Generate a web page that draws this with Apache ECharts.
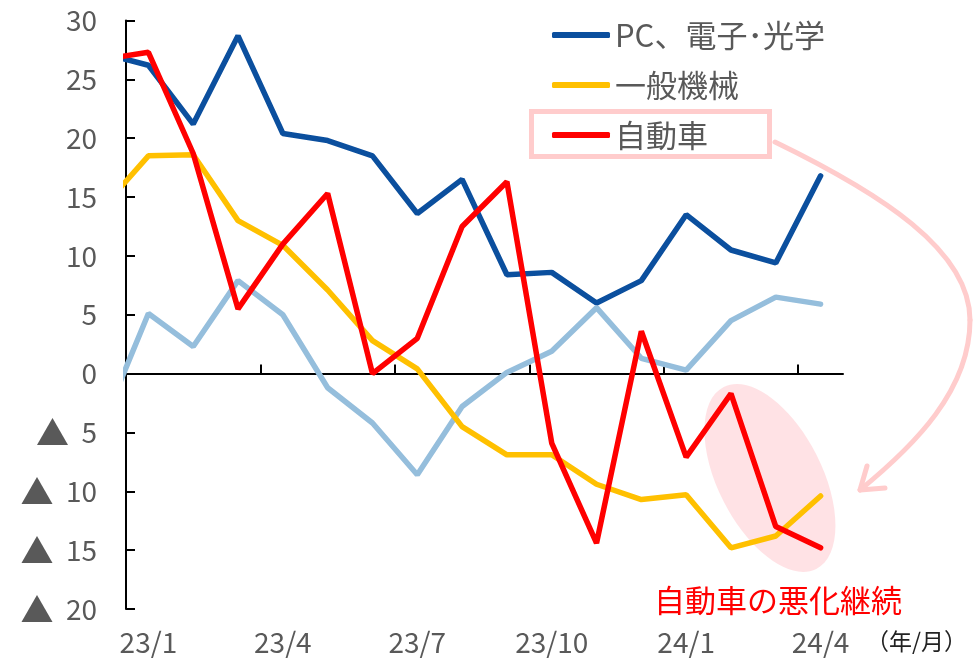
<!DOCTYPE html>
<html>
<head>
<meta charset="utf-8">
<script src="https://cdn.jsdelivr.net/npm/echarts@6/dist/echarts.min.js"></script>
<style>
  html, body { margin: 0; padding: 0; background: #fff; }
  #chart { width: 980px; height: 662px; }
</style>
</head>
<body>
<div id="chart"></div>
<script>
// months, index 0 (22/12) sits just left of the plot and is clipped
var months = ['22/12', '23/1', '23/2', '23/3', '23/4', '23/5', '23/6', '23/7', '23/8',
  '23/9', '23/10', '23/11', '23/12', '24/1', '24/2', '24/3', '24/4'];
var labelMonths = [1, 4, 7, 10, 13, 16];
var tickMarks = [3.5, 6.5, 9.5, 12.5, 15.5];

var pcElec = [27.2, 26.2, 21.2, 28.7, 20.4, 19.8, 18.5, 13.6, 16.5, 8.4, 8.6, 6.0, 7.9, 13.5, 10.5, 9.4, 16.8];
var machinery = [14.2, 18.5, 18.6, 13.0, 10.9, 7.1, 2.8, 0.4, -4.5, -6.9, -6.9, -9.4, -10.7, -10.3, -14.8, -13.8, -10.4];
var autos = [26.7, 27.3, 18.7, 5.5, 11.0, 15.3, 0.0, 3.0, 12.5, 16.3, -5.9, -14.4, 3.6, -7.1, -1.7, -13.0, -14.8];
var total = [-4.1, 5.1, 2.3, 7.9, 5.0, -1.2, -4.2, -8.6, -2.8, 0.1, 1.9, 5.6, 1.3, 0.3, 4.5, 6.5, 5.9];

var FONT = '"Noto Sans CJK JP", "Noto Sans", sans-serif';
var GREY = '#595959';
var PINK = '#FFCCCC';

function pairs(arr) {
  return arr.map(function (v, i) { return [i, v]; });
}

function lineSeries(name, color, arr) {
  return {
    name: name,
    type: 'line',
    data: pairs(arr),
    symbol: 'none',
    clip: true,
    lineStyle: { color: color, width: 5.5, cap: 'round' },
    itemStyle: { color: color },
    emphasis: { disabled: true }
  };
}

var chart = echarts.init(document.getElementById('chart'));

var option = {
  animation: false,
  backgroundColor: '#fff',
  textStyle: { fontFamily: FONT },
  grid: { left: 126, right: 137, top: 20.5, bottom: 53, containLabel: false, outerBoundsMode: 'none' },
  legend: {
    data: ['PC、電子･光学', '一般機械', '自動車'],
    orient: 'vertical',
    left: 552,
    top: 19.5,
    padding: 0,
    icon: 'roundRect',
    itemWidth: 58,
    itemHeight: 6,
    itemGap: 19,
    selectedMode: false,
    textStyle: { fontFamily: FONT, fontSize: 31, lineHeight: 31, color: GREY }
  },
  xAxis: [
    {
      type: 'value',
      min: 0.5,
      max: 16.5,
      position: 'bottom',
      axisLine: { show: true, onZero: true, lineStyle: { color: '#000', width: 2 } },
      axisTick: { show: true, inside: true, length: 9, customValues: tickMarks, lineStyle: { color: '#000', width: 2 } },
      axisLabel: { show: false },
      splitLine: { show: false }
    },
    {
      type: 'value',
      min: 0.5,
      max: 16.5,
      position: 'bottom',
      axisLine: { show: false, onZero: false },
      axisTick: { show: false },
      splitLine: { show: false },
      axisLabel: {
        customValues: labelMonths,
        margin: 19,
        fontFamily: FONT,
        fontSize: 28,
        color: GREY,
        formatter: function (v) { return months[Math.round(v)]; }
      }
    }
  ],
  yAxis: {
    type: 'value',
    min: -20,
    max: 30,
    interval: 5,
    axisLine: { show: true, lineStyle: { color: '#000', width: 2 } },
    axisTick: { show: true, inside: true, length: 9, lineStyle: { color: '#000', width: 2 } },
    splitLine: { show: false },
    axisLabel: {
      margin: 29,
      fontFamily: FONT,
      fontSize: 28,
      color: GREY,
      formatter: function (v) { return v < 0 ? '{t|▲}  ' + (-v) : String(v); },
      rich: {
        t: { fontFamily: FONT, fontSize: 33, color: GREY }
      }
    }
  },
  series: [
    lineSeries('全体', '#95BEDC', total),
    lineSeries('一般機械', '#FFC000', machinery),
    lineSeries('PC、電子･光学', '#0B4F9E', pcElec),
    lineSeries('自動車', '#FF0000', autos)
  ],
  graphic: [
    // pink highlight behind the last autos points
    {
      type: 'ellipse',
      x: 770, y: 478,
      rotation: 27 * Math.PI / 180,
      shape: { cx: 0, cy: 0, rx: 52, ry: 102 },
      style: { fill: 'rgba(255, 190, 198, 0.45)' },
      z: 0
    },
    // box round the legend entry
    {
      type: 'rect',
      shape: { x: 531.5, y: 111.5, width: 238, height: 45 },
      style: { fill: null, stroke: PINK, lineWidth: 5 },
      z: 0
    },
    // curved arrow from the box to the ellipse
    {
      type: 'bezierCurve',
      shape: { x1: 775, y1: 142, cpx1: 880, cpy1: 193, cpx2: 970, cpy2: 250, x2: 970, y2: 320 },
      style: { fill: null, stroke: PINK, lineWidth: 5, lineCap: 'round' },
      z: 0
    },
    {
      type: 'bezierCurve',
      shape: { x1: 970, y1: 320, cpx1: 970, cpy1: 390, cpx2: 915, cpy2: 445, x2: 860, y2: 490 },
      style: { fill: null, stroke: PINK, lineWidth: 5, lineCap: 'round' },
      z: 0
    },
    {
      type: 'polyline',
      shape: { points: [[885, 488], [860, 490], [867, 466]] },
      style: { fill: null, stroke: PINK, lineWidth: 5, lineCap: 'round', lineJoin: 'round' },
      z: 0
    },
    {
      type: 'text',
      left: 654, top: 585,
      style: { text: '自動車の悪化継続', fill: '#FF0000', font: '31px ' + FONT },
      z: 5
    },
    {
      type: 'text',
      left: 866, top: 630,
      style: { text: '（年/月）', fill: '#222', font: '23px ' + FONT },
      z: 5
    }
  ]
};

chart.setOption(option);
</script>
</body>
</html>
